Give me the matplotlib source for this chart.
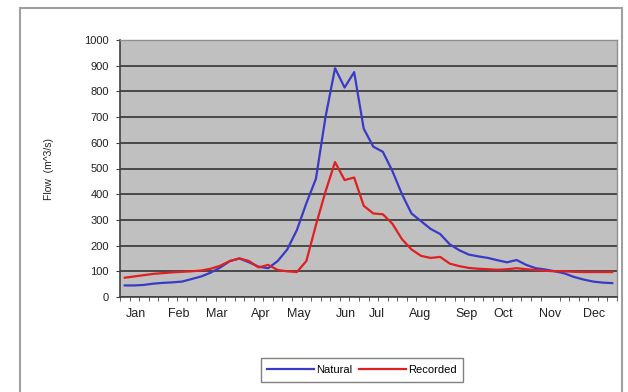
import matplotlib
matplotlib.use("Agg")
import matplotlib.pyplot as plt
from matplotlib.patches import Rectangle
import numpy as np

weeks = list(range(52))
natural = [45, 45, 47, 52, 55, 57, 60, 70, 80, 95, 115, 140, 150, 135, 118, 112,
           140, 185, 260, 365, 460, 700, 890, 815, 875, 655, 585, 565, 490, 400,
           325, 295, 265, 245, 205, 182, 165, 158, 152, 143, 135, 144, 125, 112,
           107, 100, 92, 78, 68, 60, 56, 54]
recorded = [75, 80, 85, 90, 93, 96, 98, 100, 103, 110, 122, 140, 150, 140, 115, 125,
            105, 100, 97, 140, 280, 410, 525, 455, 465, 355, 325, 322, 285, 225,
            185, 160, 152, 156, 130, 120, 113, 110, 108, 106, 108, 112, 108, 105,
            102, 100, 100, 98, 97, 97, 97, 97]
month_labels = ["Jan", "Feb", "Mar", "Apr", "May", "Jun", "Jul", "Aug", "Sep", "Oct", "Nov", "Dec"]
month_pos = [1.2, 5.6, 9.6, 14.25, 18.2, 23.1, 26.4, 30.9, 35.8, 39.6, 44.5, 49.1]
y_ticks = list(range(0, 1001, 100))

plt.rcParams['font.family'] = ['Liberation Sans', 'DejaVu Sans']

fig = plt.figure(figsize=(6.28, 3.92), dpi=100)
fig.patch.set_facecolor('white')
fig.patches.append(Rectangle((20/628, -0.05), 602/628, 1.05 - 8/392, transform=fig.transFigure,
                             fill=False, edgecolor='#a0a0a0', linewidth=1.5, zorder=0))

ax = fig.add_axes([120/628, 1 - 297/392, 497/628, 257/392])
ax.set_facecolor('#c0c0c0')
ax.set_xlim(-0.5, 51.5)
ax.set_ylim(0, 1000)
ax.set_yticks(y_ticks)
ax.set_yticklabels([str(v) for v in y_ticks], fontsize=8, color='#222222')
ax.yaxis.grid(True, color='#484848', linewidth=1.4)
ax.set_axisbelow(True)

ax.plot(weeks, natural, color='#3a3ac8', linewidth=1.6, label='Natural')
ax.plot(weeks, recorded, color='#e02020', linewidth=1.6, label='Recorded')

ax.set_xticks(np.arange(-0.5, 52, 1.0), minor=True)
ax.set_xticks(month_pos)
ax.set_xticklabels(month_labels, fontsize=9, color='#222222')
ax.tick_params(axis='x', which='major', length=0, pad=8)
ax.tick_params(axis='x', which='minor', length=3, color='#404040', direction='out')
ax.tick_params(axis='y', length=3, color='#404040', pad=5)

for s in ['top', 'right']:
    ax.spines[s].set_color('#909090')
    ax.spines[s].set_linewidth(1.0)
for s in ['left', 'bottom']:
    ax.spines[s].set_color('#404040')
    ax.spines[s].set_linewidth(1.2)

ax.set_ylabel('Flow  (m^3/s)', fontsize=7.5, color='#222222', labelpad=22)

leg = fig.legend(loc='center', bbox_to_anchor=(362/628, 1 - 370/392), ncol=2,
                 fontsize=8, frameon=True, fancybox=False, handlelength=4.2,
                 columnspacing=0.6, handletextpad=0.2, borderpad=0.6)
leg.get_frame().set_edgecolor('#606060')
leg.get_frame().set_linewidth(1.0)

fig.savefig('out.png', dpi=100)
